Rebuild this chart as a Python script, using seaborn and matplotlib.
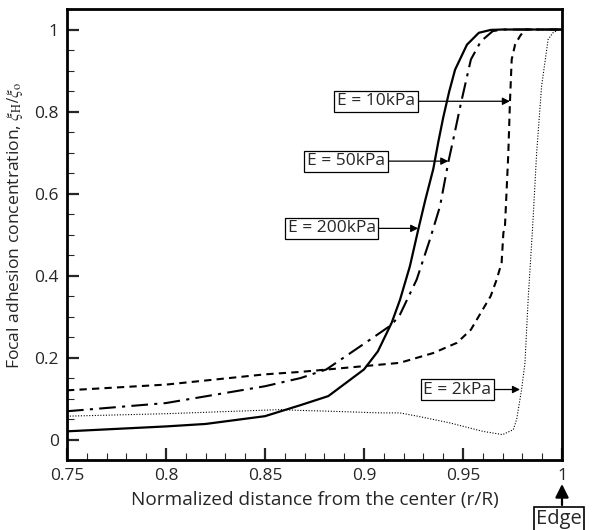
import numpy as np
import pandas as pd
import matplotlib
matplotlib.use('Agg')
import matplotlib.pyplot as plt
import seaborn as sns
from matplotlib.ticker import MultipleLocator

# curves (r/R, xi_H/xi_o)
x_200 = [0.75, 0.80, 0.82, 0.85, 0.868, 0.882, 0.90, 0.907, 0.914, 0.9182, 0.9232, 0.9274, 0.931, 0.935, 0.9375, 0.940, 0.943, 0.946, 0.952, 0.958, 0.964, 0.970, 1.0]
y_200 = [0.02, 0.032, 0.038, 0.057, 0.084, 0.106, 0.171, 0.215, 0.285, 0.341, 0.423, 0.512, 0.585, 0.660, 0.725, 0.785, 0.848, 0.902, 0.963, 0.992, 0.999, 1.0, 1.0]

x_50 = [0.75, 0.80, 0.85, 0.868, 0.881, 0.905, 0.914, 0.9182, 0.9266, 0.9333, 0.9384, 0.9426, 0.9451, 0.949, 0.954, 0.959, 0.965, 0.970, 1.0]
y_50 = [0.069, 0.089, 0.13, 0.15, 0.171, 0.25, 0.28, 0.305, 0.39, 0.488, 0.569, 0.677, 0.732, 0.821, 0.927, 0.971, 0.996, 1.0, 1.0]

x_10 = [0.75, 0.80, 0.85, 0.868, 0.90, 0.918, 0.935, 0.947, 0.954, 0.959, 0.964, 0.967, 0.9695, 0.9704, 0.9712, 0.9729, 0.9737, 0.9746, 0.9763, 0.9788, 0.9813, 1.0]
y_10 = [0.12, 0.134, 0.159, 0.165, 0.179, 0.187, 0.211, 0.236, 0.268, 0.309, 0.35, 0.39, 0.431, 0.504, 0.52, 0.699, 0.821, 0.927, 0.963, 0.984, 1.0, 1.0]

x_2 = [0.75, 0.80, 0.858, 0.868, 0.883, 0.908, 0.918, 0.927, 0.943, 0.960, 0.970, 0.9754, 0.9771, 0.9796, 0.9813, 0.983, 0.9851, 0.9872, 0.9897, 0.993, 0.9956, 0.999, 1.0]
y_2 = [0.057, 0.063, 0.073, 0.071, 0.069, 0.065, 0.065, 0.057, 0.041, 0.020, 0.012, 0.024, 0.049, 0.122, 0.187, 0.35, 0.512, 0.699, 0.862, 0.976, 0.993, 1.0, 1.0]

labels = ['E = 10kPa', 'E = 50kPa', 'E = 200kPa', 'E = 2kPa']
label_pos = [(0.9061, 0.825), (0.8909, 0.679), (0.8836, 0.515), (0.9472, 0.122)]
arrow_tips = [(0.9737, 0.825), (0.9426, 0.679), (0.9274, 0.515), (0.9788, 0.122)]

sns.set_style('ticks')
plt.rcParams['font.family'] = ['Open Sans', 'DejaVu Sans']
plt.rcParams['mathtext.fontset'] = 'stix'

fig = plt.figure(figsize=(5.93, 5.30), dpi=100)
ax = fig.add_axes([0.113, 0.132, 0.8347, 0.851])

sns.lineplot(x=x_200, y=y_200, ax=ax, color='black', lw=1.6, sort=False)
sns.lineplot(x=x_50, y=y_50, ax=ax, color='black', lw=1.5, sort=False,
             linestyle=(0, (8, 3, 1.5, 3)))
sns.lineplot(x=x_10, y=y_10, ax=ax, color='black', lw=1.5, sort=False, linestyle=(0, (3.5, 2.5)))
sns.lineplot(x=x_2, y=y_2, ax=ax, color='black', lw=0.8, sort=False, linestyle=(0, (1, 1.5)))

for lab, pos, tip in zip(labels, label_pos, arrow_tips):
    ax.annotate('', xy=tip, xytext=pos,
                arrowprops=dict(arrowstyle='-|>', color='black', lw=0.9,
                                mutation_scale=11, shrinkA=0, shrinkB=0))
    ax.text(pos[0], pos[1], lab, ha='center', va='center', fontsize=12.5,
            bbox=dict(boxstyle='square,pad=0.15', fc='white', ec='black', lw=0.9))

ax.set_xlim(0.75, 1.0)
ax.set_ylim(-0.05, 1.05)
ax.xaxis.set_minor_locator(MultipleLocator(0.01))
ax.yaxis.set_minor_locator(MultipleLocator(0.05))
ax.set_xticks([0.75, 0.8, 0.85, 0.9, 0.95, 1.0])
ax.set_xticklabels(['0.75', '0.8', '0.85', '0.9', '0.95', '1'])
ax.set_yticks([0, 0.2, 0.4, 0.6, 0.8, 1.0])
ax.set_yticklabels(['0', '0.2', '0.4', '0.6', '0.8', '1'])
ax.tick_params(which='major', direction='in', length=8.5, width=1.6, labelsize=12.5, pad=6,
               top=False, right=False)
ax.tick_params(which='minor', direction='in', length=4.8, width=0.8, top=False, right=False)
for s in ax.spines.values():
    s.set_visible(True)
    s.set_linewidth(2.0)
    s.set_color('black')

ax.set_xlabel('Normalized distance from the center (r/R)', fontsize=13.7, labelpad=5)
ax.set_ylabel(r'Focal adhesion concentration, $\xi_{\mathrm{H}}/\xi_{\mathrm{o}}$',
              fontsize=12.6)
ax.yaxis.set_label_coords(-0.085, 0.52)

# edge marker below the axis
fig.text(536 / 593, 6 / 530, 'Edge', fontsize=14.5, ha='left', va='baseline',
         bbox=dict(boxstyle='square,pad=0.12', fc='white', ec='black', lw=1.2))
ax.annotate('', xy=(562 / 593, 46 / 530), xytext=(562 / 593, 25 / 530),
            xycoords='figure fraction', textcoords='figure fraction',
            arrowprops=dict(arrowstyle='-|>', color='black', lw=1.6,
                            mutation_scale=20, shrinkA=0, shrinkB=0))

fig.savefig('out.png', dpi=100)
